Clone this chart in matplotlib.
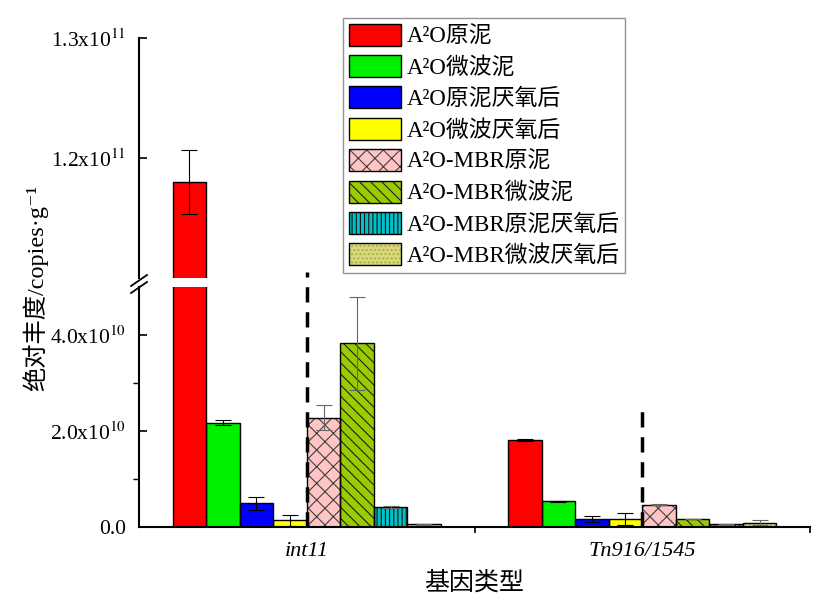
import numpy as np
import matplotlib
matplotlib.use("Agg")
import matplotlib.pyplot as plt
from matplotlib.patches import Patch
from matplotlib.lines import Line2D

plt.rcParams["font.family"] = ["Liberation Serif", "Noto Sans CJK SC", "DejaVu Serif"]
plt.rcParams["mathtext.fontset"] = "stix"
plt.rcParams["hatch.linewidth"] = 0.8
plt.rcParams["lines.scale_dashes"] = False

genes = ["int11", "Tn916/1545"]
samples = ["A²O原泥", "A²O微波泥", "A²O原泥厌氧后", "A²O微波厌氧后",
           "A²O-MBR原泥", "A²O-MBR微波泥", "A²O-MBR原泥厌氧后", "A²O-MBR微波厌氧后"]

# copies per gram, one value per sample
int11_mean = [1.18e11, 2.17e10, 4.9e9, 1.4e9, 2.28e10, 3.83e10, 4.2e9, 6e8]
int11_err = [2.7e9, 5.5e8, 1.3e9, 1.1e9, 2.6e9, 9.7e9, 2e8, 1e8]
tn_mean = [1.81e10, 5.4e9, 1.6e9, 1.7e9, 4.6e9, 1.6e9, 5.5e8, 9e8]
tn_err = [2e8, 1e8, 6e8, 1.3e9, 1e8, 0, 1e8, 5.5e8]

colors = ["#ff0000", "#00f000", "#0000ff", "#ffff00",
          "#ffc4c4", "#99cc00", "#00c0c8", "#d8d878"]
hatches = [None, None, None, None, "xx", "\\\\\\", "||||", "...."]
hatch_cols = ["black", "black", "black", "black",
              "#404040", "#202020", "#101010", "#a8a850"]
err_cols = ["black"] * 4 + ["#666666"] * 4

means = np.array([int11_mean, tn_mean])
errs = np.array([int11_err, tn_err])

fig = plt.figure(figsize=(8.14, 6.03), dpi=100)
W, H = 814, 603
left = 139 / W
width = (810 - 139) / W
ax_hi = fig.add_axes([left, 1 - 278 / H, width, 240 / H])
ax_lo = fig.add_axes([left, 1 - 527 / H, width, 240 / H])

bw = 0.1
xg = np.arange(len(genes))
for ax in (ax_hi, ax_lo):
    for i in range(len(samples)):
        x = xg + (i - 3.5) * bw
        ax.bar(x, means[:, i], bw, color=colors[i], edgecolor=hatch_cols[i],
               hatch=hatches[i], linewidth=0, zorder=2)
        ax.bar(x, means[:, i], bw, fill=False, edgecolor="black",
               linewidth=1.0, zorder=3)
        ax.errorbar(x, means[:, i], yerr=errs[:, i], fmt="none",
                    ecolor=err_cols[i], elinewidth=0.8, capsize=6,
                    capthick=0.8, zorder=4)
    ax.set_xlim(-0.5, 1.5)
    ax.spines["top"].set_visible(False)
    ax.spines["right"].set_visible(False)
    for s in ax.spines.values():
        s.set_linewidth(1.5)
    ax.tick_params(axis="both", direction="in", width=1.2)
    ax.tick_params(axis="y", which="major", length=6, pad=9)
    ax.tick_params(axis="y", which="minor", length=4, width=1.0)

ax_hi.set_ylim(1.1e11, 1.3e11)
ax_hi.set_yticks([1.2e11, 1.3e11], ["1.2x10$^{11}$", "1.3x10$^{11}$"], fontsize=15.5)
ax_hi.spines["bottom"].set_visible(False)
ax_hi.tick_params(axis="x", which="both", bottom=False, labelbottom=False)

ax_lo.set_ylim(0, 5e10)
ax_lo.set_yticks([0, 2e10, 4e10], ["0.0", "2.0x10$^{10}$", "4.0x10$^{10}$"], fontsize=15.5)
ax_lo.set_yticks([1e10, 3e10], minor=True)
ax_lo.set_xticks(xg, genes, fontsize=16, style="italic")
ax_lo.set_xticks([0.5, 1.5], minor=True)
ax_lo.tick_params(axis="x", which="major", length=0, pad=11)
ax_lo.tick_params(axis="x", which="minor", length=4, width=1.2)

# dashed separators between the A2O and A2O-MBR bars
ax_lo.plot([0, 0], [0, 5.31e10], color="black", lw=2.5, dashes=(11, 7),
           clip_on=False, zorder=5)
ax_lo.plot([1, 1], [0, 2.55e10], color="black", lw=2.5, dashes=(11, 7),
           clip_on=False, zorder=5)

# break marks on the y axis
for y0 in (286, 293):
    fig.add_artist(Line2D([131 / W, 147 / W], [1 - y0 / H, 1 - (y0 - 11) / H],
                          color="black", lw=1.3))

fig.text(474 / W, 1 - 583 / H, "基因类型", fontsize=18, ha="center", va="center")
fig.text(35 / W, 1 - 288 / H, "绝对丰度/copies·g⁻¹", fontsize=17.5, rotation=90,
         ha="center", va="center")

handles = [(Patch(facecolor=colors[i], edgecolor=hatch_cols[i], hatch=hatches[i], linewidth=0),
            Patch(fill=False, edgecolor="black", linewidth=1.0))
           for i in range(len(samples))]
leg = fig.legend(handles, samples, loc="upper left",
                 bbox_to_anchor=(343 / W, 1 - 18 / H), borderaxespad=0,
                 fontsize=16.5, frameon=True, fancybox=False, edgecolor="#777777",
                 handlelength=2.27, handleheight=1.1, handletextpad=0.25,
                 labelspacing=0.33, borderpad=0.25)
leg.get_frame().set_linewidth(1.0)

fig.savefig("out.png", dpi=100)
